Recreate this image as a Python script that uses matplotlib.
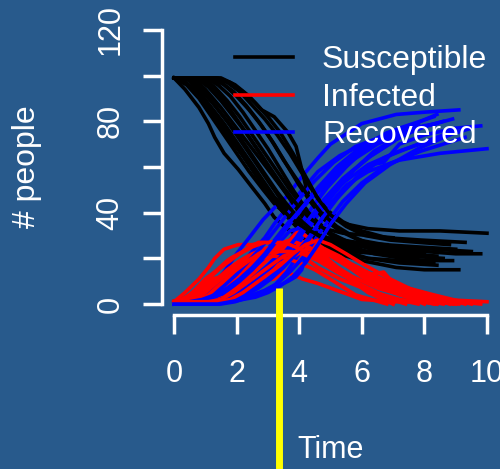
import matplotlib
matplotlib.use('Agg')
from matplotlib import pyplot as plt

plt.rcParams['font.family'] = ['Liberation Sans', 'DejaVu Sans']

# stochastic SIR runs: time, susceptible, infected, recovered
run01_t = [0, 0.35, 0.8, 1.1, 1.3, 1.6, 2.05, 2.5, 2.9, 3.2, 3.6, 4.1, 4.6, 5.3, 6.2, 7.2, 8.4]
run01_S = [99, 94, 86, 79, 73, 66, 59, 51, 44, 38, 33, 29, 26, 24, 23, 22, 21]
run01_I = [1, 5, 11, 16, 20, 24, 26, 26, 27, 27, 25, 21, 16, 11, 6, 2, 0]
run01_R = [0, 1, 3, 5, 7, 10, 15, 23, 29, 35, 42, 50, 58, 65, 71, 76, 79]

run02_t = [0, 0.4, 0.8, 1.2, 1.6, 2.0, 2.4, 2.85, 3.2, 3.6, 4.1, 4.6, 5.0, 6.0, 7.1, 8.0, 9.1]
run02_S = [99, 96, 90, 82, 74, 66, 58, 50, 44, 39, 33, 27, 23, 19, 16, 15, 15]
run02_I = [1, 3, 7, 11, 12, 12, 13, 13, 14, 14, 11, 9, 7, 2, 1, 1, 0]
run02_R = [0, 1, 3, 7, 14, 22, 29, 37, 42, 47, 56, 64, 70, 79, 83, 84, 85]

run03_t = [0, 1.5, 1.95, 2.4, 2.8, 3.2, 3.65, 3.9, 4.08, 4.24, 4.56, 5.0, 5.5, 6.2, 7.2, 8.5, 10.0]
run03_S = [99, 99, 96, 91, 85, 82, 75, 69, 59, 50, 41, 38, 35, 33, 32, 32, 31]
run03_I = [1, 1, 3, 6, 10, 11, 15, 19, 26, 28, 27, 18, 13, 9, 5, 2, 1]
run03_R = [0, 0, 1, 3, 5, 7, 10, 12, 15, 22, 32, 44, 52, 58, 63, 66, 68]

run04_t = [0, 0.6, 1.0, 1.5, 2.0, 2.5, 3.0, 3.5, 3.9, 4.3, 4.8, 5.4, 6.2, 7.2, 8.3, 9.5]
run04_S = [99, 99, 94, 86, 77, 68, 59, 50, 43, 37, 32, 28, 26, 25, 24, 23]
run04_I = [1, 1, 5, 11, 17, 21, 24, 26, 27, 26, 23, 19, 13, 8, 4, 0]
run04_R = [0, 0, 1, 3, 6, 11, 17, 24, 30, 37, 45, 53, 61, 67, 72, 77]

run05_t = [0, 0.3, 0.7, 1.1, 1.5, 1.9, 2.3, 2.7, 3.1, 3.5, 3.9, 4.4, 5.0, 5.7, 6.5, 7.5, 8.6]
run05_S = [99, 98, 93, 86, 79, 71, 63, 55, 47, 40, 34, 29, 26, 23, 22, 21, 20]
run05_I = [1, 2, 6, 11, 16, 20, 24, 27, 27, 27, 26, 23, 18, 12, 7, 3, 0]
run05_R = [0, 0, 1, 3, 5, 9, 13, 18, 26, 33, 40, 48, 56, 65, 71, 76, 80]

run06_t = [0, 0.8, 1.2, 1.6, 2.0, 2.4, 2.8, 3.2, 3.6, 4.0, 4.4, 4.9, 5.5, 6.2, 7.2, 8.4]
run06_S = [99, 99, 95, 89, 81, 73, 65, 56, 48, 40, 33, 27, 23, 20, 18, 17]
run06_I = [1, 1, 4, 9, 15, 20, 24, 25, 26, 26, 25, 22, 17, 11, 6, 0]
run06_R = [0, 0, 1, 2, 4, 7, 11, 19, 26, 34, 42, 51, 60, 69, 76, 83]

run07_t = [0, 1.0, 1.4, 1.8, 2.2, 2.6, 3.0, 3.4, 3.8, 4.2, 4.6, 5.1, 5.7, 6.4, 7.3, 8.1, 8.9]
run07_S = [99, 99, 96, 91, 84, 76, 68, 59, 50, 42, 35, 29, 25, 22, 20, 19, 19]
run07_I = [1, 1, 3, 7, 12, 17, 21, 25, 27, 27, 26, 23, 17, 11, 6, 3, 0]
run07_R = [0, 0, 1, 2, 4, 7, 11, 16, 23, 31, 39, 48, 58, 67, 74, 78, 81]

run08_t = [0, 0.5, 0.9, 1.3, 1.7, 2.1, 2.5, 2.9, 3.3, 3.7, 3.97, 4.3, 4.8, 5.4, 6.2, 7.2, 8.3]
run08_S = [99, 99, 94, 87, 80, 72, 64, 56, 48, 40, 35, 31, 26, 22, 20, 19, 18]
run08_I = [1, 1, 5, 10, 15, 19, 22, 24, 26, 28, 32, 29, 24, 18, 10, 4, 0]
run08_R = [0, 0, 1, 3, 5, 9, 14, 20, 26, 32, 33, 40, 50, 60, 70, 77, 82]

run09_t = [0, 0.2, 0.6, 1.0, 1.4, 1.8, 2.2, 2.6, 3.0, 3.4, 3.8, 4.3, 4.9, 5.6, 6.5, 7.4]
run09_S = [99, 99, 94, 87, 80, 72, 65, 57, 50, 43, 37, 32, 29, 27, 26, 25]
run09_I = [1, 1, 5, 11, 15, 20, 23, 26, 27, 27, 26, 23, 18, 11, 4, 0]
run09_R = [0, 0, 1, 2, 5, 8, 12, 17, 23, 30, 37, 45, 53, 62, 70, 75]

run10_t = [0, 1.2, 1.6, 2.0, 2.4, 2.8, 3.2, 3.6, 4.0, 4.4, 4.8, 5.3, 5.9, 6.7, 7.8, 9.0]
run10_S = [99, 99, 96, 91, 85, 78, 70, 61, 52, 44, 37, 32, 28, 26, 25, 24]
run10_I = [1, 1, 3, 7, 12, 17, 22, 25, 26, 26, 24, 20, 16, 10, 5, 0]
run10_R = [0, 0, 1, 2, 3, 5, 8, 14, 22, 30, 39, 48, 56, 64, 70, 76]

run11_t = [0, 0.9, 1.3, 1.7, 2.1, 2.5, 2.9, 3.3, 3.7, 4.1, 4.5, 5.0, 5.6, 6.3, 7.1, 8.0]
run11_S = [99, 99, 95, 89, 82, 74, 66, 58, 50, 43, 37, 31, 27, 24, 23, 22]
run11_I = [1, 1, 4, 8, 13, 18, 22, 25, 26, 26, 24, 21, 16, 11, 5, 0]
run11_R = [0, 0, 1, 3, 5, 8, 12, 17, 24, 31, 39, 48, 57, 65, 72, 78]

run12_t = [0, 0.4, 0.8, 1.2, 1.6, 2.0, 2.4, 2.8, 3.2, 3.6, 4.0, 4.5, 5.1, 5.8, 6.8]
run12_S = [99, 99, 93, 86, 79, 71, 63, 55, 47, 41, 36, 31, 28, 27, 26]
run12_I = [1, 1, 6, 10, 13, 16, 18, 20, 21, 20, 18, 15, 10, 4, 0]
run12_R = [0, 0, 1, 4, 8, 13, 19, 25, 32, 39, 46, 54, 62, 69, 74]

run13_t = [0, 1.3, 1.7, 2.1, 2.5, 2.9, 3.3, 3.7, 4.1, 4.5, 4.9, 5.4, 6.0, 6.8, 7.9, 9.3]
run13_S = [99, 99, 97, 93, 87, 81, 74, 66, 57, 48, 41, 36, 32, 29, 28, 27]
run13_I = [1, 1, 2, 5, 9, 13, 17, 20, 23, 24, 23, 19, 15, 10, 5, 0]
run13_R = [0, 0, 1, 2, 4, 6, 9, 14, 20, 28, 36, 45, 53, 61, 67, 73]

run14_t = [0, 0.7, 1.1, 1.5, 1.9, 2.3, 2.7, 3.1, 3.5, 3.9, 4.3, 4.8, 5.4, 6.2, 7.0]
run14_S = [99, 99, 95, 89, 82, 75, 67, 59, 51, 44, 38, 33, 31, 30, 29]
run14_I = [1, 1, 4, 9, 14, 18, 22, 25, 27, 27, 25, 21, 14, 6, 0]
run14_R = [0, 0, 1, 2, 4, 7, 11, 16, 22, 29, 37, 46, 55, 64, 71]

run15_t = [0, 0.5, 0.9, 1.3, 1.7, 2.1, 2.5, 2.9, 3.3, 3.7, 4.1, 4.6, 5.2, 5.9, 6.8, 7.8]
run15_S = [99, 98, 93, 87, 80, 73, 65, 57, 49, 42, 36, 30, 26, 23, 22, 21]
run15_I = [1, 2, 6, 10, 14, 17, 20, 22, 23, 23, 22, 19, 14, 9, 3, 0]
run15_R = [0, 0, 1, 3, 6, 10, 15, 21, 28, 35, 42, 51, 60, 68, 75, 79]

run16_t = [0, 1.1, 1.5, 1.9, 2.3, 2.7, 3.1, 3.5, 3.9, 4.3, 4.7, 5.2, 5.8, 6.3, 6.7, 7.2, 8.0, 9.0, 9.8]
run16_S = [99, 99, 97, 93, 87, 80, 72, 63, 55, 47, 40, 34, 29, 26, 24, 24, 23, 22, 22]
run16_I = [1, 1, 2, 5, 9, 13, 17, 21, 23, 24, 23, 20, 16, 13, 14, 6, 3, 1, 0]
run16_R = [0, 0, 1, 2, 4, 7, 11, 16, 22, 29, 37, 46, 55, 61, 62, 70, 74, 77, 78]

run17_t = [0, 0.15, 0.5, 0.9, 1.3, 1.7, 2.1, 2.5, 2.9, 3.3, 3.7, 4.2, 4.8, 5.5, 6.2, 7.0]
run17_S = [99, 99, 95, 89, 82, 74, 67, 59, 51, 44, 38, 33, 29, 26, 25, 24]
run17_I = [1, 1, 4, 9, 14, 19, 22, 25, 27, 27, 26, 23, 18, 12, 5, 0]
run17_R = [0, 0, 1, 2, 4, 7, 11, 16, 22, 29, 36, 44, 53, 62, 70, 76]

run18_t = [0, 1.4, 1.8, 2.2, 2.6, 3.0, 3.4, 3.8, 4.2, 4.6, 5.0, 5.5, 6.1, 6.9, 7.8, 8.8]
run18_S = [99, 99, 97, 93, 88, 82, 75, 66, 56, 46, 39, 34, 30, 28, 27, 26]
run18_I = [1, 1, 2, 5, 9, 13, 17, 22, 26, 28, 26, 22, 17, 11, 5, 0]
run18_R = [0, 0, 1, 2, 3, 5, 8, 12, 18, 26, 35, 44, 53, 61, 68, 74]

runs = [
    (run01_t, run01_S, run01_I, run01_R),
    (run02_t, run02_S, run02_I, run02_R),
    (run03_t, run03_S, run03_I, run03_R),
    (run04_t, run04_S, run04_I, run04_R),
    (run05_t, run05_S, run05_I, run05_R),
    (run06_t, run06_S, run06_I, run06_R),
    (run07_t, run07_S, run07_I, run07_R),
    (run08_t, run08_S, run08_I, run08_R),
    (run09_t, run09_S, run09_I, run09_R),
    (run10_t, run10_S, run10_I, run10_R),
    (run11_t, run11_S, run11_I, run11_R),
    (run12_t, run12_S, run12_I, run12_R),
    (run13_t, run13_S, run13_I, run13_R),
    (run14_t, run14_S, run14_I, run14_R),
    (run15_t, run15_S, run15_I, run15_R),
    (run16_t, run16_S, run16_I, run16_R),
    (run17_t, run17_S, run17_I, run17_R),
    (run18_t, run18_S, run18_I, run18_R),
]

legend_labels = ['Susceptible', 'Infected', 'Recovered']
legend_colors = ['black', 'red', 'blue']
x_ticks = [0, 2, 4, 6, 8, 10]
y_ticks = [0, 20, 40, 60, 80, 100, 120]
y_ticklabels = ['0', '', '40', '', '80', '', '120']
marker_time = 3.37
marker_top = 7

bg = '#285a8c'
fig = plt.figure(figsize=(5, 4.69), dpi=100, facecolor=bg)
ax = fig.add_axes([0.323, 0.3284, 0.676, 0.6311], facecolor=bg)

lw = 2.6
for t, s, i, r in runs:
    ax.plot(t, s, color='black', linewidth=lw)
    ax.plot(t, i, color='red', linewidth=lw)
    ax.plot(t, r, color='blue', linewidth=lw)

# yellow marker line, runs past the axis down to the bottom of the figure
ax.plot([marker_time, marker_time], [marker_top, -80], color='yellow',
        linewidth=5, clip_on=False, zorder=10, solid_capstyle='butt')

handles = [ax.plot([], [], color=c, linewidth=lw)[0] for c in legend_colors]
ax.legend(handles, legend_labels, loc='upper left', bbox_to_anchor=(0.2175, 0.912),
          frameon=False, fontsize=23, handlelength=1.82, handletextpad=0.9,
          labelspacing=0.24, borderaxespad=0, borderpad=0, labelcolor='white')

ax.set_xlim(-0.4, 10.4)
ax.set_ylim(-4.8, 124.8)
for side in ['top', 'right']:
    ax.spines[side].set_visible(False)
for side in ['left', 'bottom']:
    ax.spines[side].set_color('white')
    ax.spines[side].set_linewidth(2.5)
ax.spines['left'].set_bounds(0, 120)
ax.spines['bottom'].set_bounds(0, 10)

ax.set_xticks(x_ticks)
ax.set_yticks(y_ticks)
ax.set_yticklabels(y_ticklabels)
ax.tick_params(colors='white', length=14, width=2.5, labelsize=22)
ax.tick_params(axis='x', pad=18)
ax.tick_params(axis='y', pad=12)
plt.setp(ax.get_yticklabels(), rotation=90, va='center')

ax.set_xlabel('Time', fontsize=22, color='white')
ax.set_ylabel('# people', fontsize=23, color='white')
ax.xaxis.set_label_coords(0.5, -0.405)
ax.yaxis.set_label_coords(-0.354, 0.5)

fig.savefig('out.png', dpi=100, facecolor=bg)
